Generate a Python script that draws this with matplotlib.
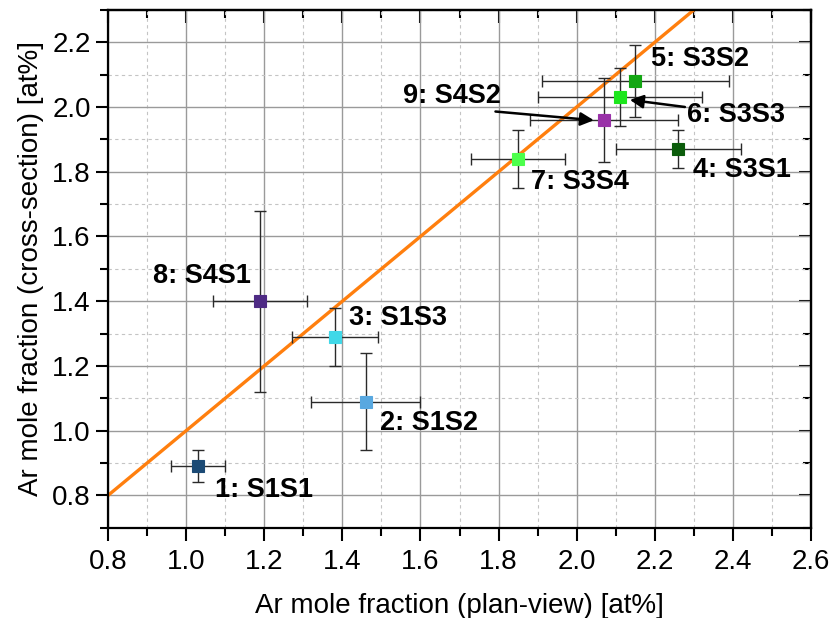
import matplotlib
matplotlib.use("Agg")
import matplotlib.pyplot as plt
from matplotlib.ticker import MultipleLocator

plt.rcParams["font.family"] = ["Liberation Sans", "DejaVu Sans"]

# Ar content per sample: plan-view (x) vs cross-section (y), with uncertainties
labels = ["1: S1S1", "2: S1S2", "3: S1S3", "4: S3S1", "5: S3S2",
          "6: S3S3", "7: S3S4", "8: S4S1", "9: S4S2"]
x_plan = [1.03, 1.46, 1.38, 2.26, 2.15, 2.11, 1.85, 1.19, 2.07]
x_err = [0.07, 0.14, 0.11, 0.16, 0.24, 0.21, 0.12, 0.12, 0.19]
y_cross = [0.89, 1.09, 1.29, 1.87, 2.08, 2.03, 1.84, 1.40, 1.96]
y_err = [0.05, 0.15, 0.09, 0.06, 0.11, 0.09, 0.09, 0.28, 0.13]
colors = ["#1B4A75", "#58A8E0", "#40D8E8", "#0B5C0B", "#12A612",
          "#1CE61C", "#4CFF4C", "#4E2A84", "#9932A8"]

# label anchor (left, centre) for each sample
lab_x = [1.075, 1.497, 1.418, 2.297, 2.19, 2.282, 1.882, 0.915, 1.556]
lab_y = [0.818, 1.025, 1.348, 1.804, 2.149, 1.976, 1.767, 1.477, 2.035]

fig = plt.figure(figsize=(8.31, 6.18), dpi=100)
ax = fig.add_axes([0.130, 0.146, 0.846, 0.838])

ax.set_xlim(0.8, 2.6)
ax.set_ylim(0.7, 2.3)
ax.xaxis.set_major_locator(MultipleLocator(0.2))
ax.xaxis.set_minor_locator(MultipleLocator(0.1))
ax.yaxis.set_major_locator(MultipleLocator(0.2))
ax.yaxis.set_minor_locator(MultipleLocator(0.1))
ax.set_yticks([0.8, 1.0, 1.2, 1.4, 1.6, 1.8, 2.0, 2.2])

ax.grid(which="major", color="#9a9a9a", lw=1.0, zorder=0)
ax.grid(which="minor", color="#c4c4c4", lw=0.8, ls=(0, (3, 3)), zorder=0)

# 1:1 reference line
ax.plot([0.8, 2.6], [0.8, 2.6], color="#FF7F0E", lw=2.4, zorder=2)

for xi, yi, xe, ye, c in zip(x_plan, y_cross, x_err, y_err, colors):
    ax.errorbar(xi, yi, xerr=xe, yerr=ye, fmt="none", ecolor="#2a2a2a",
                elinewidth=1.0, capsize=4, capthick=1.0, zorder=3)
    ax.plot(xi, yi, "s", ms=8.5, mfc=c, mec=c, mew=0.8, zorder=4)

for t, lx, ly in zip(labels, lab_x, lab_y):
    ax.text(lx, ly, t, ha="left", va="center", fontsize=19.5,
            fontweight="bold", zorder=5)

arrow = dict(arrowstyle="-|>", color="black", lw=1.8, mutation_scale=20,
             shrinkA=0, shrinkB=0)
ax.annotate("", xy=(2.044, 1.959), xytext=(1.792, 1.986), arrowprops=arrow, zorder=5)
ax.annotate("", xy=(2.136, 2.022), xytext=(2.277, 2.000), arrowprops=arrow, zorder=5)

ax.set_xlabel("Ar mole fraction (plan-view) [at%]", fontsize=20, labelpad=13)
ax.set_ylabel("Ar mole fraction (cross-section) [at%]", fontsize=20, labelpad=6)

ax.tick_params(which="both", direction="out", width=1.5, labelsize=20,
               top=False, right=False)
ax.tick_params(axis="x", pad=6)
ax.tick_params(which="major", length=9)
ax.tick_params(which="minor", length=6)
for sp in ax.spines.values():
    sp.set_linewidth(1.6)

# inward ticks on top and right edges
top = ax.secondary_xaxis("top")
right = ax.secondary_yaxis("right")
for sec in (top, right):
    sec.tick_params(which="both", direction="in", width=1.5, labelsize=0)
    sec.tick_params(which="major", length=9)
    sec.tick_params(which="minor", length=6)
    sec.spines[:].set_linewidth(1.6)
top.xaxis.set_major_locator(MultipleLocator(0.2))
top.xaxis.set_minor_locator(MultipleLocator(0.1))
top.set_xticklabels([])
right.yaxis.set_major_locator(MultipleLocator(0.2))
right.yaxis.set_minor_locator(MultipleLocator(0.1))
right.set_yticklabels([])

fig.savefig("out.png", dpi=100)
